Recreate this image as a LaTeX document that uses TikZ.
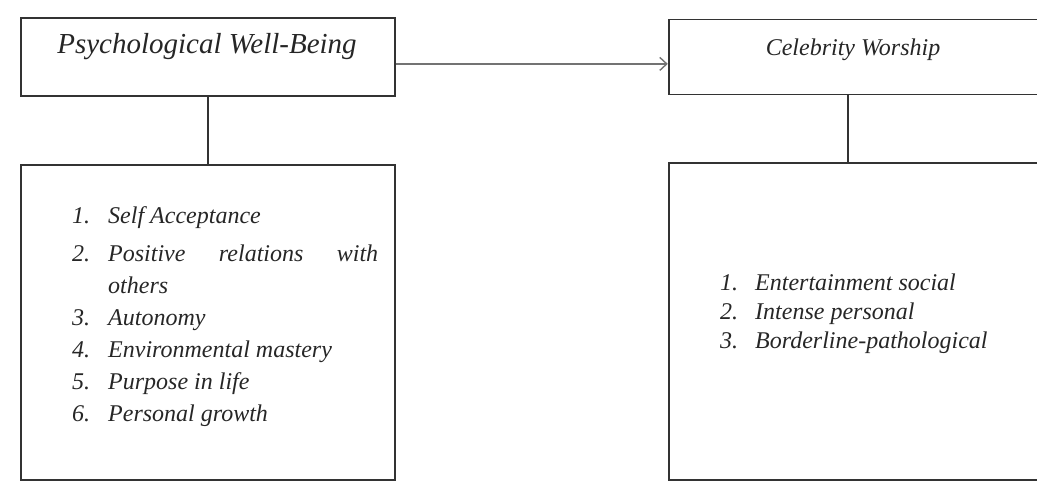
\documentclass[tikz,border=0pt]{standalone}
\usepackage{fontspec}
\setmainfont{Liberation Serif}
\usetikzlibrary{positioning,arrows.meta}

\begin{document}
\begin{tikzpicture}[
    x=1pt, y=-1pt,
    node distance=67pt,
    box/.style={draw=black!80, line width=1.8pt, inner sep=0pt},
    heading/.style={font=\fontsize{29}{34}\selectfont\itshape, text=black!85, inner sep=0pt, anchor=base},
    subheading/.style={font=\fontsize{24}{29}\selectfont\itshape, text=black!85, inner sep=0pt, anchor=base},
    items/.style={text=black!85, inner sep=0pt, anchor=base west},
    link/.style={draw=black!80, line width=1.8pt},
    arrow/.style={draw=black!55, line width=1.4pt, -{Straight Barb[length=7pt,width=13pt]}}
]
\useasboundingbox (0,0) rectangle (1037,485);

% Variabel X
\node[box, minimum width=374pt, minimum height=78pt, anchor=north west] (pwb) at (20,17) {};
\node[heading] (pwbtitle) at (207,53) {Psychological Well-Being};

% Variabel Y
\node[box, minimum width=376pt, minimum height=75pt, right=272pt of pwb] (cw) {};
\node[subheading] (cwtitle) at (853,55) {Celebrity Worship};

% Dimensi
\node[box, minimum width=374pt, minimum height=315pt, below=of pwb] (pwbdims) {};
\node[items] (pwblist) at (72,223) {\fontsize{24}{32}\selectfont\itshape
\begin{tabular}[t]{@{}r@{\hspace{18pt}}p{270pt}@{}}
1. & Self Acceptance \\[6pt]
2. & Positive relations with\linebreak others \\
3. & Autonomy \\
4. & Environmental mastery \\
5. & Purpose in life \\
6. & Personal growth
\end{tabular}};

\node[box, minimum width=376pt, minimum height=317pt, below=of cw] (cwdims) {};
\node[items] (cwlist) at (720,290) {\fontsize{24}{29}\selectfont\itshape
\begin{tabular}[t]{@{}r@{\hspace{17pt}}l@{}}
1. & Entertainment social \\
2. & Intense personal \\
3. & Borderline-pathological
\end{tabular}};

% Hubungan
\draw[arrow] ([yshift=-7pt]pwb.east) -- ([yshift=-7pt]pwb.east -| cw.west);
\draw[link] (pwb) -- (pwbdims);
\draw[link] ([xshift=-9pt]cw.south) -- ([xshift=-9pt]cwdims.north);

\end{tikzpicture}
\end{document}
